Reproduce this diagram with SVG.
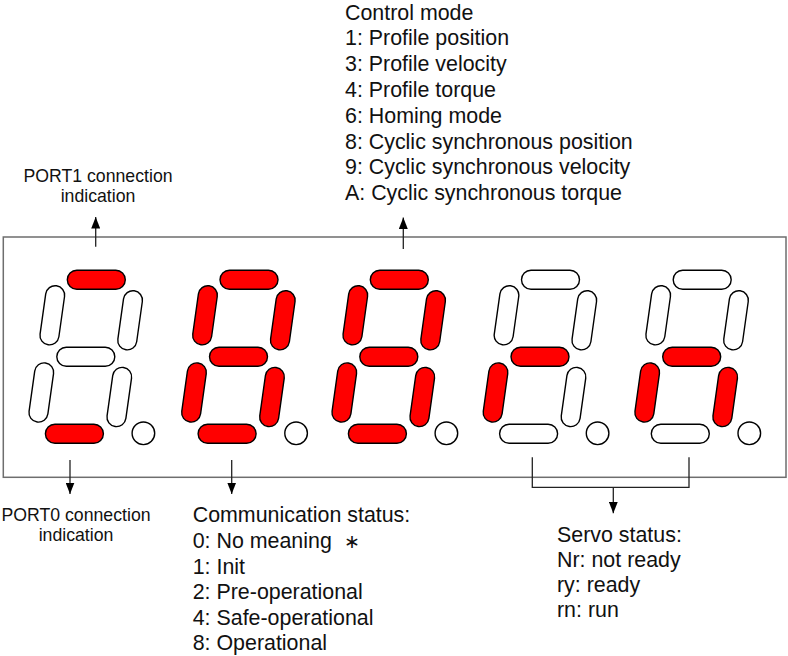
<svg xmlns="http://www.w3.org/2000/svg" xmlns:xlink="http://www.w3.org/1999/xlink" width="788" height="656" viewBox="0 0 788 656">
<style>
text{font-family:"Liberation Sans",Arial,sans-serif;fill:#111;}
.big{font-size:21.4px;}
.small{font-size:17.7px;}
.seg{stroke:#000;stroke-width:1.4;}
.on{fill:#ff0000;}
.off{fill:#fff;}
.box{fill:none;stroke:#6e6e6e;stroke-width:1.5;}
.ln{fill:none;stroke:#222;stroke-width:1.3;}
</style>
<defs>
<rect id="h" x="-29" y="-9.5" width="58" height="19" rx="9.5"/>
<rect id="v" x="-9.5" y="-29.8" width="19" height="59.6" rx="9.5" transform="rotate(8)"/>
<marker id="ah" viewBox="0 0 10 10" refX="10" refY="5" markerWidth="11.5" markerHeight="9" markerUnits="userSpaceOnUse" orient="auto" preserveAspectRatio="none">
<path d="M0,0 L10,5 L0,10 Z" fill="#000"/>
</marker>
</defs>
<rect id="display" class="box" x="3.3" y="237" width="782.7" height="240.3"/>

<g id="digit1" transform="translate(96.3,279.7)">
<use href="#h" class="seg on" x="0" y="0"/>
<use href="#v" class="seg off" x="33.8" y="40.6"/>
<use href="#v" class="seg off" x="-44" y="35.6"/>
<use href="#h" class="seg off" x="-10.5" y="77"/>
<use href="#v" class="seg off" x="23" y="117.3"/>
<use href="#v" class="seg off" x="-55" y="112.8"/>
<use href="#h" class="seg on" x="-21.9" y="154"/>
<circle class="seg off" cx="47.1" cy="153.6" r="11.3"/>
</g>
<g id="digit2" transform="translate(249,279.7)">
<use href="#h" class="seg on" x="0" y="0"/>
<use href="#v" class="seg on" x="33.8" y="40.6"/>
<use href="#v" class="seg on" x="-44" y="35.6"/>
<use href="#h" class="seg on" x="-10.5" y="77"/>
<use href="#v" class="seg on" x="23" y="117.3"/>
<use href="#v" class="seg on" x="-55" y="112.8"/>
<use href="#h" class="seg on" x="-21.9" y="154"/>
<circle class="seg off" cx="47.1" cy="153.6" r="11.3"/>
</g>
<g id="digit3" transform="translate(399.3,279.7)">
<use href="#h" class="seg on" x="0" y="0"/>
<use href="#v" class="seg on" x="33.8" y="40.6"/>
<use href="#v" class="seg on" x="-44" y="35.6"/>
<use href="#h" class="seg on" x="-10.5" y="77"/>
<use href="#v" class="seg on" x="23" y="117.3"/>
<use href="#v" class="seg on" x="-55" y="112.8"/>
<use href="#h" class="seg on" x="-21.9" y="154"/>
<circle class="seg off" cx="47.1" cy="153.6" r="11.3"/>
</g>
<g id="digit4" transform="translate(550.5,279.7)">
<use href="#h" class="seg off" x="0" y="0"/>
<use href="#v" class="seg off" x="33.8" y="40.6"/>
<use href="#v" class="seg off" x="-44" y="35.6"/>
<use href="#h" class="seg on" x="-10.5" y="77"/>
<use href="#v" class="seg off" x="23" y="117.3"/>
<use href="#v" class="seg on" x="-55" y="112.8"/>
<use href="#h" class="seg off" x="-21.9" y="154"/>
<circle class="seg off" cx="47.1" cy="153.6" r="11.3"/>
</g>
<g id="digit5" transform="translate(702.2,279.7)">
<use href="#h" class="seg off" x="0" y="0"/>
<use href="#v" class="seg off" x="33.8" y="40.6"/>
<use href="#v" class="seg off" x="-44" y="35.6"/>
<use href="#h" class="seg on" x="-10.5" y="77"/>
<use href="#v" class="seg on" x="23" y="117.3"/>
<use href="#v" class="seg on" x="-55" y="112.8"/>
<use href="#h" class="seg off" x="-21.9" y="154"/>
<circle class="seg off" cx="47.1" cy="153.6" r="11.3"/>
</g>

<g id="connectors">
<line class="ln" x1="95.7" y1="246.7" x2="95.7" y2="217" marker-end="url(#ah)"/>
<line class="ln" x1="403.3" y1="249" x2="403.3" y2="217.5" marker-end="url(#ah)"/>
<line class="ln" x1="70" y1="460" x2="70" y2="494" marker-end="url(#ah)"/>
<line class="ln" x1="231.7" y1="460" x2="231.7" y2="494" marker-end="url(#ah)"/>
<polyline class="ln" points="532.3,457.3 532.3,487.3 689,487.3 689,457.3"/>
<line class="ln" x1="613.3" y1="487.3" x2="613.3" y2="513.3" marker-end="url(#ah)"/>
</g>

<g id="label-port1">
<text class="small" x="98" y="181.7" text-anchor="middle">PORT1 connection</text>
<text class="small" x="98" y="201.7" text-anchor="middle">indication</text>
</g>
<g id="label-port0">
<text class="small" x="76" y="521" text-anchor="middle">PORT0 connection</text>
<text class="small" x="76" y="541" text-anchor="middle">indication</text>
</g>
<g id="label-control-mode">
<text class="big" x="345" y="19.5">Control mode</text>
<text class="big" x="345" y="45.3">1: Profile position</text>
<text class="big" x="345" y="71.1">3: Profile velocity</text>
<text class="big" x="345" y="96.9">4: Profile torque</text>
<text class="big" x="345" y="122.7">6: Homing mode</text>
<text class="big" x="345" y="148.5">8: Cyclic synchronous position</text>
<text class="big" x="345" y="174.3">9: Cyclic synchronous velocity</text>
<text class="big" x="345" y="200.1">A: Cyclic synchronous torque</text>
</g>
<g id="label-communication">
<text class="big" x="192.7" y="521.7">Communication status:</text>
<text class="big" x="192.7" y="548.3">0: No meaning<tspan x="344" font-size="19">∗</tspan></text>
<text class="big" x="192.7" y="573.5">1: Init</text>
<text class="big" x="192.7" y="599.3">2: Pre-operational</text>
<text class="big" x="192.7" y="625">4: Safe-operational</text>
<text class="big" x="192.7" y="650.3">8: Operational</text>
</g>
<g id="label-servo">
<text class="big" x="557" y="541.7">Servo status:</text>
<text class="big" x="557" y="566.7">Nr: not ready</text>
<text class="big" x="557" y="591.7">ry: ready</text>
<text class="big" x="557" y="616.7">rn: run</text>
</g>
</svg>
